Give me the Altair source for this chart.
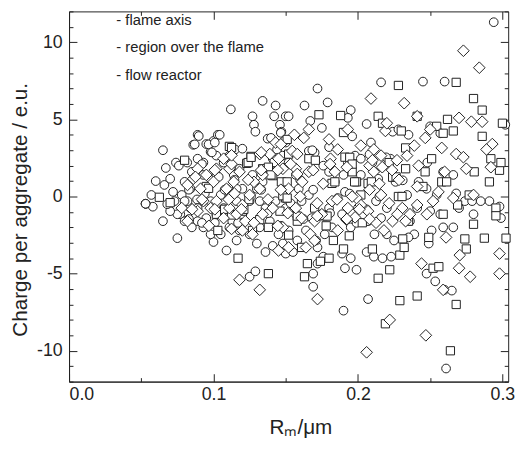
import altair as alt
import pandas as pd

# series names (legend labels)
names = ["- flame axis", "- region over the flame", "- flow reactor"]

# flame axis (circles): (R_m, charge)
flame = [
(0.053,-0.47),(0.057,0.1),(0.058,-0.66),(0.060,1.0),(0.065,3.0),(0.065,-1.6),(0.066,0.75),(0.067,1.85),
(0.070,1.15),(0.072,0.3),(0.075,-2.7),(0.074,2.2),(0.076,2.0),(0.078,0.1),(0.080,0.95),(0.077,-1.15),
(0.086,3.35),(0.089,4.0),(0.095,3.4),(0.098,2.9),(0.100,3.6),(0.103,4.0),(0.112,5.65),(0.100,-2.95),
(0.109,-3.5),(0.089,1.75),(0.085,1.6),(0.093,-0.3),(0.092,0.5),(0.098,1.15),(0.089,-1.6),(0.084,-0.75),
(0.095,-1.4),(0.100,-2.2),(0.107,-0.75),(0.111,-2.0),(0.113,-1.6),(0.115,3.05),(0.120,3.1),(0.127,5.2),
(0.128,4.65),(0.129,4.2),(0.134,6.2),(0.143,5.9),(0.1375,3.75),(0.142,5.2),(0.150,5.2),(0.146,4.65),
(0.147,4.2),(0.150,3.5),(0.125,-5.2),(0.129,-4.85),(0.130,-3.05),(0.136,-3.6),(0.141,-3.2),(0.148,-3.05),
(0.150,-3.7),(0.155,-3.6),(0.163,5.9),(0.167,4.9),(0.172,7.0),(0.175,4.45),(0.179,6.1),(0.180,3.2),
(0.166,2.95),(0.169,-5.0),(0.169,-5.85),(0.172,-3.3),(0.172,-4.35),(0.176,-3.9),(0.195,5.6),(0.193,5.1),
(0.196,3.9),(0.191,-4.65),(0.199,-4.75),(0.195,-4.0),(0.190,-7.4),(0.189,-3.7),(0.206,4.7),(0.209,3.5),
(0.216,7.4),(0.206,-3.6),(0.207,-6.65),(0.211,-3.9),(0.217,-4.0),(0.223,-3.9),(0.224,4.2),(0.228,4.35),
(0.235,4.0),(0.231,1.05),(0.245,7.45),(0.2475,-5.0),(0.249,-3.05),(0.2535,-5.5),(0.260,7.45),(0.260,-6.05),
(0.265,-6.1),(0.261,-11.15),(0.294,11.3),(0.302,4.65),(0.291,-0.3),(0.298,-0.65),(0.299,-1.4),(0.274,-0.3),
(0.279,-0.3),(0.268,0.2),(0.259,-2.0),(0.251,-2.2),(0.2545,0.1),(0.2475,0.5),(0.242,0.95),(0.239,-2.45),
(0.235,-2.65),(0.225,-2.85),(0.220,-2.45),(0.216,-1.4),(0.2125,-0.3),(0.214,1.15),(0.2225,2.45),(0.202,1.4),
(0.198,2.65),(0.193,2.2),(0.190,1.4),(0.186,-0.1),(0.191,0.3),(0.184,0.95),(0.180,1.6),(0.176,2.0),
(0.170,2.85),(0.166,0.1),(0.161,-0.3),(0.159,0.5),(0.157,1.4),(0.152,2.2),(0.1477,2.65),(0.144,3.05),
(0.141,2.45),(0.139,1.8),(0.134,0.95),(0.130,0.5),(0.125,-0.3),(0.120,-1.15),(0.118,-2.2),(0.116,-2.85),
(0.125,-2.45),(0.132,-2.0),(0.139,-1.6),(0.145,-2.45),(0.152,-2.2),(0.158,-2.85),(0.164,-2.2),(0.168,-1.4),
(0.175,-1.15),(0.180,-0.75),(0.182,-2.0),(0.177,-2.45),(0.171,-2.85),(0.157,-1.15),(0.150,-0.75),(0.143,-0.3),
(0.136,-0.75),(0.132,-0.3),(0.127,1.4),(0.123,2.2),(0.118,1.8),(0.114,1.4),(0.109,0.5),(0.105,0.1),
(0.102,1.4),(0.107,2.2),(0.111,2.65),(0.102,2.65),(0.093,2.2),(0.089,2.45),(0.084,0.5),(0.082,-0.3),
(0.089,-0.75),(0.093,-2.0),(0.098,-2.45),(0.105,-2.45),(0.109,-1.15),(0.102,-1.15),(0.098,-0.3),(0.111,-0.1),
(0.116,-0.3),(0.120,0.5),(0.116,0.5),(0.093,1.4),(0.080,-0.3),(0.075,-1.15),(0.073,-0.3),(0.070,-0.95),
(0.068,-0.5),(0.085,-2.0),(0.080,-1.6),(0.236,-1.6),(0.241,-0.75),(0.250,-0.95),(0.257,-1.15),(0.266,-2.0),
(0.270,-0.75),(0.280,-1.15),(0.285,-0.3),(0.226,0.95),(0.234,0.1),(0.220,-0.75),(0.2114,-2.45),(0.207,-1.6),
(0.200,-0.75),(0.195,-2.0),(0.189,-1.15),(0.202,2.45),(0.210,2.2),(0.250,4.55),(0.257,4.1),(0.248,2.2),
(0.259,1.6),(0.266,1.4),
(0.0818,2.2),(0.092,2.1),(0.083,0.44),(0.0886,-0.19),(0.094,0.19),(0.1036,1.27),(0.1077,0.44),(0.1145,1.08),
(0.1009,-1.71),(0.117,-1.71),(0.133,0.44),(0.126,0.0),(0.1377,-1.08),(0.1466,-1.9),(0.1534,-0.44),(0.092,-1.71),
(0.083,-1.46),(0.1684,3.0),(0.160,1.08),(0.169,0.44),(0.1943,0.19),(0.2148,0.0),(0.208,2.73),(0.2195,2.54),
(0.1807,-1.08),(0.206,-0.83),(0.1623,-1.46),(0.199,-1.71),(0.152,5.2),(0.1398,3.8),(0.1466,4.13),(0.149,3.6),
(0.0898,3.92),(0.087,3.38),(0.0966,3.38),(0.1043,4.0),(0.1009,3.5),(0.0989,2.86),
]

# region over the flame (squares)
region = [
(0.0625,-0.05),(0.070,-0.4),(0.080,2.35),(0.095,0.65),(0.102,-1.15),(0.103,-2.2),(0.111,3.25),(0.111,-1.15),
(0.117,-4.0),(0.120,-0.95),(0.123,2.15),(0.126,2.6),(0.127,-2.2),(0.132,-1.5),(0.138,-2.0),(0.138,-5.0),
(0.134,1.8),(0.141,1.35),(0.142,2.2),(0.147,0.95),(0.146,-0.95),(0.150,-0.1),(0.151,3.7),(0.152,-2.5),
(0.152,2.75),(0.158,-1.6),(0.161,-3.3),(0.163,-5.2),(0.165,-4.35),(0.166,2.45),(0.170,-0.75),(0.173,5.3),
(0.174,-4.2),(0.176,-1.25),(0.178,-1.9),(0.180,-4.0),(0.182,0.85),(0.183,-2.85),(0.188,5.25),(0.190,4.15),
(0.191,2.55),(0.190,-3.4),(0.194,-2.55),(0.196,1.6),(0.199,0.95),(0.202,0.1),(0.203,-1.7),(0.207,0.85),
(0.210,-3.4),(0.214,5.2),(0.214,-5.3),(0.217,4.75),(0.219,-8.25),(0.222,-4.75),(0.224,1.25),(0.228,7.2),
(0.228,0.0),(0.229,-3.8),(0.229,-6.75),(0.230,4.25),(0.231,-2.75),(0.232,-3.3),(0.233,1.8),(0.233,3.15),
(0.241,5.2),(0.241,-6.45),(0.245,0.65),(0.2465,1.6),(0.249,-2.65),(0.251,2.45),(0.252,-4.65),(0.2545,4.55),
(0.256,-4.55),(0.258,0.95),(0.259,4.1),(0.259,-1.15),(0.262,5.0),(0.264,-10.0),(0.266,4.25),(0.268,7.4),
(0.268,-7.0),(0.269,-0.55),(0.274,-2.75),(0.275,-3.4),(0.280,6.35),(0.280,-1.8),(0.2805,1.6),(0.286,5.6),
(0.286,3.9),(0.2875,-2.7),(0.291,0.95),(0.292,2.45),(0.2955,-0.75),(0.298,1.7),(0.299,2.2),(0.300,4.75),
(0.3025,-2.7),(0.2955,-1.25),(0.277,0.1),(0.2614,0.95),(0.235,-1.6),(0.1245,-0.2),(0.148,0.05),
(0.0966,0.53),(0.1077,-0.83),(0.1125,-1.2),(0.121,-0.83),(0.124,2.2),(0.138,1.9),(0.151,0.95),(0.151,-0.1),
(0.1398,1.4),(0.1705,2.35),(0.184,0.95),(0.1977,0.95),(0.2093,0.95),(0.2264,1.27),(0.2216,2.2),(0.1943,2.54),
(0.196,2.1),(0.2305,0.0),(0.158,-1.27),(0.1786,-1.27),(0.1125,3.17),(0.126,2.54),
]

# flow reactor (diamonds)
reactor = [
(0.118,-5.4),(0.132,-6.05),(0.172,-6.65),(0.206,-10.1),(0.222,-8.0),(0.247,-9.0),(0.209,6.35),(0.232,6.05),
(0.241,5.2),(0.273,9.45),(0.284,8.35),(0.270,5.1),(0.2785,4.85),(0.286,4.85),(0.293,3.4),(0.289,3.05),
(0.292,1.9),(0.298,-5.0),(0.298,-3.7),(0.2777,-5.2),(0.270,-4.65),(0.2705,-3.8),(0.261,-2.65),(0.259,-6.05),
(0.244,-4.35),(0.242,2.0),(0.2466,3.8),(0.250,4.35),(0.258,3.15),(0.268,2.75),(0.273,2.55),(0.275,1.8),
(0.280,0.1),(0.266,-0.1),(0.260,1.6),(0.2557,0.3),(0.252,-0.3),(0.2477,-1.15),(0.241,-0.55),(0.241,0.65),
(0.236,-1.15),(0.233,-1.6),(0.2307,-0.75),(0.2273,-1.15),(0.2239,-1.6),(0.218,-2.2),(0.2125,-1.7),(0.207,-0.95),
(0.202,-0.55),(0.198,-1.35),(0.192,-1.5),(0.193,-0.75),(0.199,-0.1),(0.202,3.3),(0.208,2.0),(0.211,3.05),
(0.216,2.65),(0.219,4.25),(0.220,4.75),(0.216,0.1),(0.211,1.6),(0.227,2.35),(0.234,2.65),(0.239,3.3),
(0.186,3.05),(0.193,4.35),(0.181,2.45),(0.180,3.7),(0.184,1.6),(0.182,-0.3),(0.186,-2.2),(0.175,-1.15),
(0.170,-1.6),(0.167,-2.45),(0.164,-3.3),(0.170,-2.85),(0.166,4.35),(0.1625,3.8),(0.156,4.0),(0.1545,2.95),
(0.157,1.8),(0.1614,0.95),(0.166,1.6),(0.152,0.5),(0.148,1.8),(0.145,2.45),(0.143,3.5),(0.139,2.75),
(0.134,1.4),(0.132,0.5),(0.128,0.95),(0.125,0.1),(0.120,-0.55),(0.116,-1.15),(0.122,-1.6),(0.127,-2.45),
(0.134,-1.15),(0.141,-0.75),(0.148,-2.0),(0.145,-3.5),(0.152,-3.3),(0.157,-0.75),(0.161,-1.4),(0.132,2.75),
(0.118,1.6),(0.114,0.95),(0.109,0.5),(0.107,2.45),(0.102,1.8),(0.100,0.95),(0.095,1.4),(0.091,0.5),
(0.086,1.15),(0.089,-0.95),(0.093,-0.3),(0.098,-0.75),(0.102,-0.3),(0.107,-1.4),(0.111,-0.75),(0.082,-1.6),
(0.078,-0.75),(0.082,0.75),(0.089,1.8),(0.111,1.8),(0.120,-2.2),
(0.0875,1.27),(0.1009,1.71),(0.1125,2.1),(0.124,1.08),(0.1145,0.19),(0.1105,-0.19),(0.092,-0.19),(0.0852,-0.83),
(0.1009,-0.83),(0.1193,-0.83),(0.1377,-0.19),(0.1466,0.44),(0.1514,-1.08),(0.1445,-1.9),(0.128,-1.71),(0.1125,-2.1),
(0.0968,-1.9),(0.133,1.71),(0.1445,1.71),(0.1534,2.1),(0.158,2.75),(0.169,1.71),(0.1807,2.1),(0.1923,1.9),
(0.176,0.83),(0.160,0.0),(0.1718,-0.44),(0.1855,-0.19),(0.196,0.0),(0.201,-0.83),(0.208,0.44),(0.2148,0.83),
(0.2168,1.9),(0.210,2.35),(0.2236,1.71),(0.1718,-1.27),(0.1923,-1.46),(0.208,-1.46),(0.2216,-0.44),(0.2284,1.08),
(0.158,1.46),(0.133,2.86),(0.1466,3.38),(0.1125,2.67),
]

x_ticks = [0.0, 0.1, 0.2, 0.3]
x_minor = [0.0, 0.05, 0.1, 0.15, 0.2, 0.25, 0.3]
y_ticks = [-10, -5, 0, 5, 10]
y_minor = list(range(-12, 13))

def frame(name, pts):
    return pd.DataFrame({"r": [p[0] for p in pts], "q": [p[1] for p in pts], "series": name})

W, H = 446, 376
FONT = "Liberation Sans"
INK = "#222"
xs = alt.Scale(domain=[0, 0.304], nice=False, zero=False)
ys = alt.Scale(domain=[-12, 12], nice=False, zero=False)

x_major_test = "abs(datum.value*10 - round(datum.value*10)) < 0.001"
y_major_test = "abs(datum.value % 5) < 0.001"
xts = {"condition": {"test": x_major_test, "value": 8}, "value": 4}
yts = {"condition": {"test": y_major_test, "value": 8}, "value": 4}

x_main = alt.Axis(
    orient="bottom", values=x_ticks, format=".1f", ticks=False, grid=False,
    domain=True, domainColor=INK, labelFont=FONT, labelFontSize=18,
    labelColor=INK, labelPadding=4, title="Rₘ/μm", titleFont=FONT,
    titleFontSize=21, titleFontWeight="normal", titleColor=INK,
    titleX=235, titleY=36, titleBaseline="top")
y_main = alt.Axis(
    orient="left", values=y_ticks, labelExpr="datum.value + ''", ticks=False,
    grid=False, domain=True, domainColor=INK, labelFont=FONT, labelFontSize=18,
    labelColor=INK, labelPadding=7, title="Charge per aggregate / e.u.",
    titleFont=FONT, titleFontSize=21, titleFontWeight="normal", titleColor=INK,
    titleAngle=270, titleAlign="center", titleBaseline="bottom",
    titleX=-39, titleY=201)

shape_scale = alt.Scale(domain=names, range=["circle", "square", "diamond"])
legend = alt.Legend(title=None, orient="none", legendX=15, legendY=1,
                    labelFont=FONT, labelFontSize=15, labelColor=INK,
                    symbolSize=95, rowPadding=12, labelOffset=18, padding=0,
                    labelLimit=300)

MARK = dict(filled=False, fill="white", fillOpacity=1, strokeWidth=1)

def layer(name, pts, size):
    return alt.Chart(frame(name, pts)).mark_point(size=size, **MARK).encode(
        x=alt.X("r:Q", scale=xs, axis=x_main),
        y=alt.Y("q:Q", scale=ys, axis=y_main),
        shape=alt.Shape("series:N", scale=shape_scale, legend=legend),
        color=alt.value(INK),
    )

l_flame = layer(names[0], flame, 78)
l_region = layer(names[1], region, 70)
l_reactor = layer(names[2], reactor, 140)
points = alt.layer(l_flame, l_region, l_reactor)

# the tick-only layers redraw the first flame point identically (keeps marks visible)
tick_df = frame(names[0], flame[:1])

def tick_layer(x_orient, y_orient):
    return alt.Chart(tick_df).mark_point(size=78, **MARK).encode(
        x=alt.X("r:Q", scale=xs, axis=alt.Axis(
            orient=x_orient, offset=-H, values=x_minor, labels=False, domain=False,
            grid=False, tickSize=xts, tickColor=INK, title=None)),
        y=alt.Y("q:Q", scale=ys, axis=alt.Axis(
            orient=y_orient, offset=-W, values=y_minor, labels=False, domain=False,
            grid=False, tickSize=yts, tickColor=INK, title=None)),
        shape=alt.Shape("series:N", scale=shape_scale, legend=legend),
        color=alt.value(INK),
    )

ticks_bl = tick_layer("top", "right")
ticks_tr = tick_layer("bottom", "left")

chart = alt.layer(points, ticks_bl, ticks_tr).resolve_axis(
    x="independent", y="independent"
).properties(
    width=W, height=H,
    autosize=alt.AutoSizeParams(type="none"),
    padding={"left": 62, "top": 0, "right": 12, "bottom": 66},
    background="white",
).configure_view(stroke=INK, strokeWidth=1).configure_legend(
    symbolStrokeColor=INK, symbolFillColor="white", symbolStrokeWidth=1.2, symbolOpacity=1
)

chart.save("out.html", embed_options={"renderer": "svg", "actions": False})
